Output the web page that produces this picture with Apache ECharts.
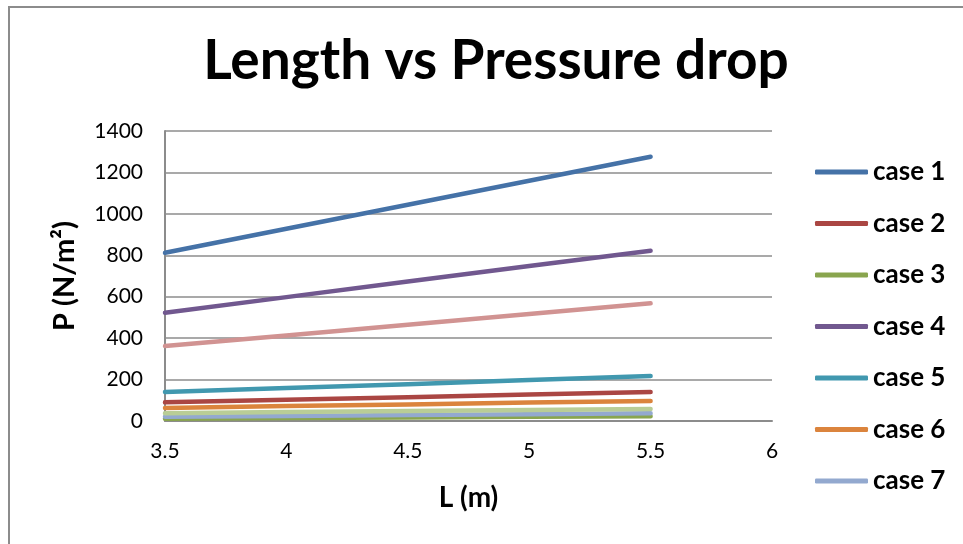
<!DOCTYPE html>
<html>
<head>
<meta charset="utf-8">
<title>Length vs Pressure drop</title>
<script src="https://cdn.jsdelivr.net/npm/echarts@6/dist/echarts.min.js"></script>
<style>
  html, body { margin: 0; padding: 0; background: #fff; }
  #chart { width: 963px; height: 544px; }
</style>
</head>
<body>
<div id="chart"></div>
<script>
// Pipe length (m) against pressure drop (N/m²) for each case
const lengths = [3.5, 4, 4.5, 5, 5.5];
const caseNames = ['case 1', 'case 2', 'case 3', 'case 4', 'case 5', 'case 6', 'case 7', 'case 8', 'case 9'];
const case1 = [812, 928, 1044, 1160, 1276];
const case2 = [90, 103, 115, 128, 140];
const case3 = [11, 14, 17, 20, 23];
const case4 = [523, 598, 673, 748, 822];
const case5 = [140, 159, 178, 198, 217];
const case6 = [63, 72, 80, 89, 97];
const case7 = [20, 24, 29, 33, 37];
const case8 = [362, 413, 465, 517, 568];
const case9 = [38, 43, 48, 53, 58];
const caseValues = [case1, case2, case3, case4, case5, case6, case7, case8, case9];
const legendNames = caseNames.slice(0, 7);

const colors = ['#4572A7', '#AA4643', '#89A54E', '#71588F', '#4198AF', '#DB843D', '#93A9CF', '#D19392', '#B9CD96'];
const font = 'Lato, "Open Sans", sans-serif';

const series = caseNames.map((name, i) => ({
  name: name,
  type: 'line',
  data: lengths.map((x, j) => [x, caseValues[i][j]]),
  showSymbol: false,
  symbol: 'none',
  lineStyle: { width: 4.5, color: colors[i], cap: 'round', join: 'round' },
  itemStyle: { color: colors[i] },
  animation: false
}));

const chart = echarts.init(document.getElementById('chart'), null, { renderer: 'canvas' });
chart.setOption({
  backgroundColor: '#ffffff',
  animation: false,
  title: {
    text: 'Length vs Pressure drop',
    left: 491,
    textAlign: 'center',
    top: 29,
    textStyle: { fontFamily: font, fontWeight: 'bold', fontSize: 55, color: '#000' }
  },
  graphic: [{
    type: 'rect',
    shape: { x: 9, y: 7, width: 1000, height: 600 },
    style: { fill: 'none', stroke: '#8c8c8c', lineWidth: 2 },
    silent: true
  }],
  grid: { left: 165, right: 191, top: 131, bottom: 123, containLabel: false },
  legend: {
    orient: 'vertical',
    left: 815,
    top: 157,
    padding: 0,
    data: legendNames,
    icon: 'roundRect',
    itemWidth: 53,
    itemHeight: 5,
    itemGap: 21.5,
    textStyle: { fontFamily: font, fontWeight: 'bold', fontSize: 26, color: '#000', lineHeight: 30 }
  },
  xAxis: {
    type: 'value',
    min: 3.5,
    max: 6,
    interval: 0.5,
    name: 'L (m)',
    nameLocation: 'middle',
    nameGap: 63,
    nameTextStyle: { fontFamily: font, fontWeight: 'bold', fontSize: 28, color: '#000' },
    axisLine: { show: true, lineStyle: { color: '#8c8c8c', width: 2 } },
    axisTick: { show: false },
    splitLine: { show: false },
    axisLabel: { fontFamily: font, fontSize: 21, color: '#000', margin: 20 }
  },
  yAxis: {
    type: 'value',
    min: 0,
    max: 1400,
    interval: 200,
    name: 'P (N/m²)',
    nameLocation: 'middle',
    nameGap: 86,
    nameTextStyle: { fontFamily: font, fontWeight: 'bold', fontSize: 29, color: '#000' },
    axisLine: { show: true, lineStyle: { color: '#8c8c8c', width: 2 } },
    axisTick: { show: false },
    splitLine: { show: true, lineStyle: { color: '#8c8c8c', width: 1.5 } },
    axisLabel: { fontFamily: font, fontSize: 21, color: '#000', margin: 22, formatter: (v) => String(v) }
  },
  series: series
});
</script>
</body>
</html>
